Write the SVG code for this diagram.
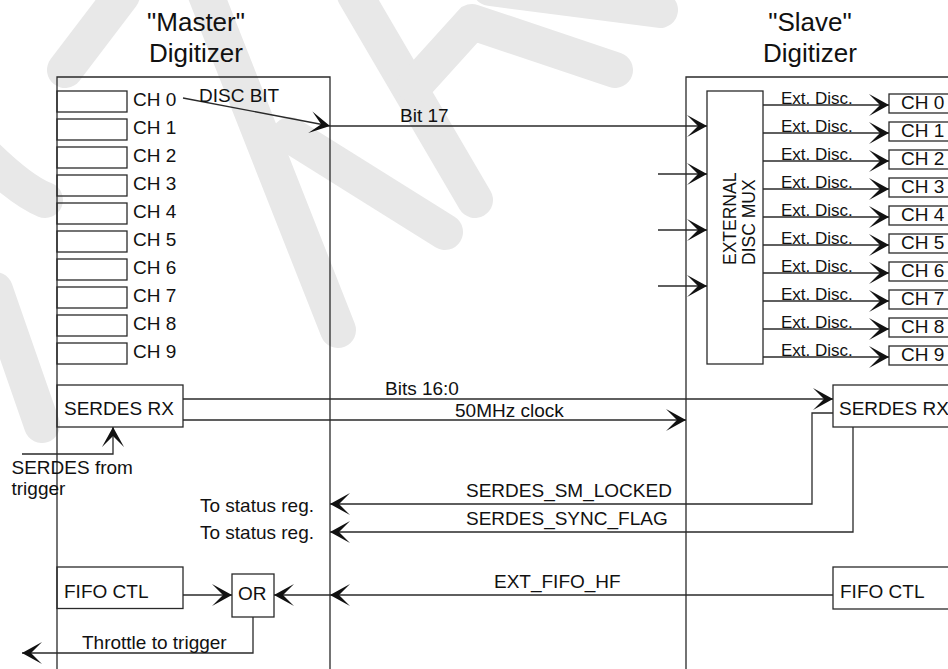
<svg xmlns="http://www.w3.org/2000/svg" width="948" height="669" viewBox="0 0 948 669">
<style>
.wm{fill:none;stroke:#e8e8e8;stroke-width:36;stroke-linecap:round;stroke-linejoin:round}
.bx{fill:none;stroke:#2a2a2a;stroke-width:1.3}
.ln{fill:none;stroke:#2a2a2a;stroke-width:1.3}
.ar{marker-end:url(#ah)}
text{font-family:"Liberation Sans",Arial,sans-serif;fill:#111;font-size:19px}
.t{font-size:26px;text-anchor:middle}
.ed{font-size:17px}
.mx{font-size:17.5px}
.r{text-anchor:end}
</style>
<defs>
<marker id="ah" viewBox="-21 -12 22 24" refX="0" refY="0" markerWidth="22" markerHeight="24" markerUnits="userSpaceOnUse" orient="auto">
<path d="M0,0 L-20,-11 L-9,0 L-20,11 Z" fill="#111"/>
</marker>
</defs>
<rect width="948" height="669" fill="#fff"/>
<g id="watermark">
<path class="wm" d="M65,70 L122,-5"/>
<path class="wm" d="M206,-5 L338,330"/>
<path class="wm" d="M-20,150 Q20,190 45,200"/>
<path class="wm" d="M-5,290 L42,425"/>
<path class="wm" d="M355,-5 L475,200"/>
<path class="wm" d="M415,85 L472,22 L615,70"/>
<path class="wm" d="M490,-12 L660,10"/>
<path class="wm" d="M290,135 L445,232"/>
</g>
<g id="master">
<path class="bx" d="M57,669 V77 H330 V669"/>
<text class="t" x="196" y="30.5">"Master"</text>
<text class="t" x="196" y="62">Digitizer</text>
</g>
<g id="master-ch">
<rect class="bx" x="57" y="91" width="70" height="21"/>
<rect class="bx" x="57" y="119" width="70" height="21"/>
<rect class="bx" x="57" y="147" width="70" height="21"/>
<rect class="bx" x="57" y="175" width="70" height="21"/>
<rect class="bx" x="57" y="203" width="70" height="21"/>
<rect class="bx" x="57" y="231" width="70" height="21"/>
<rect class="bx" x="57" y="259" width="70" height="21"/>
<rect class="bx" x="57" y="287" width="70" height="21"/>
<rect class="bx" x="57" y="315" width="70" height="21"/>
<rect class="bx" x="57" y="343" width="70" height="21"/>
<text x="133" y="106">CH 0</text>
<text x="133" y="134">CH 1</text>
<text x="133" y="162">CH 2</text>
<text x="133" y="190">CH 3</text>
<text x="133" y="218">CH 4</text>
<text x="133" y="246">CH 5</text>
<text x="133" y="274">CH 6</text>
<text x="133" y="302">CH 7</text>
<text x="133" y="330">CH 8</text>
<text x="133" y="358">CH 9</text>
</g>
<g id="master-serdes">
<rect class="bx" x="57" y="385" width="126" height="42"/>
<text x="64" y="415">SERDES RX</text>
</g>
<g id="master-fifo">
<rect class="bx" x="57" y="567" width="126" height="41.5"/>
<text x="64" y="598">FIFO CTL</text>
</g>
<g id="or">
<rect class="bx" x="232" y="574" width="42" height="43"/>
<text x="238" y="600">OR</text>
</g>
<g id="slave">
<path class="bx" d="M686,669 V77 H960"/>
<text class="t" x="810" y="30.5">"Slave"</text>
<text class="t" x="810" y="62">Digitizer</text>
</g>
<g id="mux">
<rect class="bx" x="707" y="91" width="56" height="273"/>
<text class="mx" transform="translate(736,265) rotate(-90)">EXTERNAL</text>
<text class="mx" transform="translate(755,265) rotate(-90)">DISC MUX</text>
</g>
<g id="slave-ch">
<rect class="bx" x="889" y="94" width="80" height="19"/>
<rect class="bx" x="889" y="122" width="80" height="19"/>
<rect class="bx" x="889" y="150" width="80" height="19"/>
<rect class="bx" x="889" y="178" width="80" height="19"/>
<rect class="bx" x="889" y="206" width="80" height="19"/>
<rect class="bx" x="889" y="234" width="80" height="19"/>
<rect class="bx" x="889" y="262" width="80" height="19"/>
<rect class="bx" x="889" y="290" width="80" height="19"/>
<rect class="bx" x="889" y="318" width="80" height="19"/>
<rect class="bx" x="889" y="346" width="80" height="19"/>
<text x="901" y="109">CH 0</text>
<text x="901" y="137">CH 1</text>
<text x="901" y="165">CH 2</text>
<text x="901" y="193">CH 3</text>
<text x="901" y="221">CH 4</text>
<text x="901" y="249">CH 5</text>
<text x="901" y="277">CH 6</text>
<text x="901" y="305">CH 7</text>
<text x="901" y="333">CH 8</text>
<text x="901" y="361">CH 9</text>
</g>
<g id="slave-serdes">
<rect class="bx" x="833" y="385" width="130" height="42"/>
<text x="839" y="415">SERDES RX</text>
</g>
<g id="slave-fifo">
<rect class="bx" x="833" y="567" width="130" height="42"/>
<text x="840" y="597.5">FIFO CTL</text>
</g>
<g id="connectors">
<line class="ln ar" x1="183" y1="98" x2="330" y2="126"/>
<line class="ln ar" x1="330" y1="126" x2="707" y2="126"/>
<line class="ln ar" x1="658" y1="174" x2="707" y2="174"/>
<line class="ln ar" x1="658" y1="230" x2="707" y2="230"/>
<line class="ln ar" x1="658" y1="286" x2="707" y2="286"/>
<line class="ln ar" x1="763" y1="105" x2="889" y2="105"/>
<line class="ln ar" x1="763" y1="133" x2="889" y2="133"/>
<line class="ln ar" x1="763" y1="161" x2="889" y2="161"/>
<line class="ln ar" x1="763" y1="189" x2="889" y2="189"/>
<line class="ln ar" x1="763" y1="217" x2="889" y2="217"/>
<line class="ln ar" x1="763" y1="245" x2="889" y2="245"/>
<line class="ln ar" x1="763" y1="273" x2="889" y2="273"/>
<line class="ln ar" x1="763" y1="301" x2="889" y2="301"/>
<line class="ln ar" x1="763" y1="329" x2="889" y2="329"/>
<line class="ln ar" x1="763" y1="357" x2="889" y2="357"/>
<line class="ln ar" x1="183" y1="399" x2="833" y2="399"/>
<line class="ln ar" x1="183" y1="420" x2="686" y2="420"/>
<polyline class="ln ar" points="22,454 113,454 113,427"/>
<polyline class="ln ar" points="833,413 812,413 812,504 330,504"/>
<polyline class="ln ar" points="853,427 853,532 330,532"/>
<line class="ln ar" x1="833" y1="595" x2="330" y2="595"/>
<line class="ln ar" x1="330" y1="595" x2="274" y2="595"/>
<line class="ln ar" x1="183" y1="595" x2="232" y2="595"/>
<polyline class="ln ar" points="253,617 253,653 22,653"/>
</g>
<g id="labels">
<text x="199" y="101.7">DISC BIT</text>
<text x="400" y="121.5">Bit 17</text>
<text class="ed" x="781" y="104">Ext. Disc.</text>
<text class="ed" x="781" y="132">Ext. Disc.</text>
<text class="ed" x="781" y="160">Ext. Disc.</text>
<text class="ed" x="781" y="188">Ext. Disc.</text>
<text class="ed" x="781" y="216">Ext. Disc.</text>
<text class="ed" x="781" y="244">Ext. Disc.</text>
<text class="ed" x="781" y="272">Ext. Disc.</text>
<text class="ed" x="781" y="300">Ext. Disc.</text>
<text class="ed" x="781" y="328">Ext. Disc.</text>
<text class="ed" x="781" y="356">Ext. Disc.</text>
<text x="385" y="395">Bits 16:0</text>
<text x="455" y="416.5">50MHz clock</text>
<text x="11.5" y="473.5">SERDES from</text>
<text x="11.5" y="495">trigger</text>
<text class="r" x="314" y="511.5">To status reg.</text>
<text class="r" x="314" y="539">To status reg.</text>
<text x="466" y="496.5">SERDES_SM_LOCKED</text>
<text x="466" y="524.5">SERDES_SYNC_FLAG</text>
<text x="494" y="587.5">EXT_FIFO_HF</text>
<text x="82" y="649">Throttle to trigger</text>
</g>
</svg>
